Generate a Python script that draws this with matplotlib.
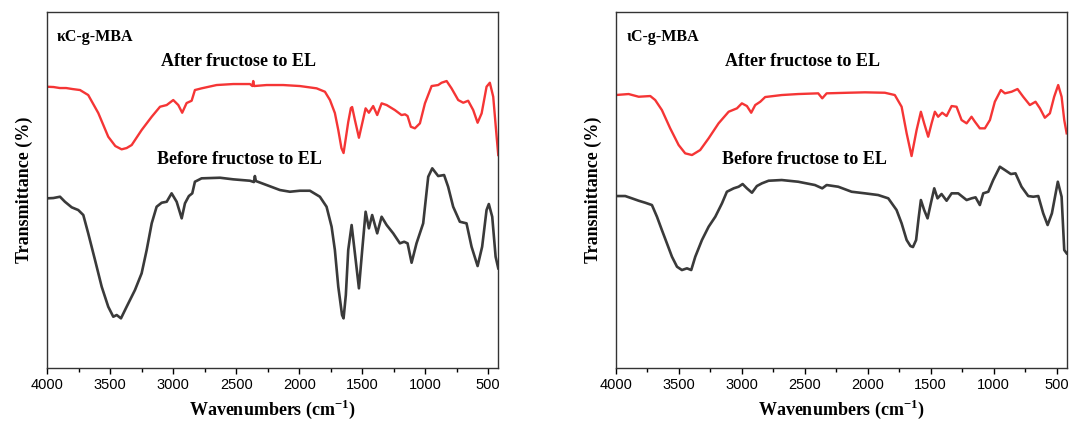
import numpy as np
import matplotlib
matplotlib.use('Agg')
import matplotlib.pyplot as plt
from matplotlib.ticker import MultipleLocator

plt.rcParams['font.family'] = ['Liberation Serif', 'DejaVu Serif']
plt.rcParams['mathtext.fontset'] = 'custom'
plt.rcParams['mathtext.rm'] = 'Liberation Serif:bold'
plt.rcParams['mathtext.bf'] = 'Liberation Serif:bold'

# kappa-carrageenan graft, after reaction (red)
k_after_wn = [4000, 3950, 3900, 3850, 3800, 3740, 3727, 3675, 3595, 3516, 3460, 3410, 3370, 3330,
              3251, 3171, 3105, 3052, 3000, 2960, 2929, 2894, 2854, 2828, 2775, 2656, 2524, 2391,
              2372, 2365, 2358, 2259, 2127, 1995, 1862, 1796, 1756, 1717, 1690, 1665, 1648, 1630,
              1611, 1590, 1580, 1558, 1526, 1500, 1473, 1447, 1413, 1381, 1346, 1306, 1241, 1188,
              1160, 1140, 1114, 1082, 1042, 1002, 949, 897, 870, 830, 791, 738, 698, 659, 619, 584,
              552, 513, 487, 460, 433, 420]
k_after_t = [281.3, 281, 280, 280, 279, 278, 277, 273, 255, 231.3, 222, 218.7, 220, 223,
             238, 251.3, 261.3, 263, 268, 263, 255.3, 265, 267.3, 278, 279.7, 283, 284, 284,
             282, 287, 282, 283, 283, 282, 279.7, 276.3, 268, 255, 238, 220, 215, 230,
             246, 260, 261, 248, 230.3, 244.7, 259.7, 255.3, 262, 253, 264.7, 263, 258, 253,
             253.7, 252, 241.3, 239.7, 244.7, 264.7, 282, 283, 285.3, 287, 279.7, 268, 265.3, 267.3, 258, 245.3,
             254.7, 281.3, 285.3, 271.3, 231.3, 213]

# kappa-carrageenan graft, before reaction (gray)
k_before_wn = [4000, 3952, 3899, 3860, 3806, 3754, 3714, 3675, 3621, 3568, 3516, 3476, 3449, 3415,
               3370, 3304, 3251, 3211, 3171, 3132, 3092, 3052, 3013, 2973, 2933, 2907, 2876, 2849,
               2828, 2775, 2629, 2524, 2391, 2360, 2352, 2344, 2259, 2153, 2074, 1995, 1915, 1836,
               1783, 1743, 1717, 1690, 1660, 1648, 1630, 1611, 1584, 1558, 1526, 1500, 1473, 1447,
               1421, 1381, 1346, 1306, 1254, 1201, 1167, 1140, 1108, 1069, 1016, 976, 944, 897,
               850, 818, 778, 725, 672, 632, 584, 548, 513, 495, 468, 441, 420]
k_before_t = [169.7, 170, 171.3, 166.3, 160.7, 158, 153, 134.7, 108, 81.3, 61.3, 51.3, 53, 49.7,
              61.3, 78, 94.7, 118, 144.7, 161.3, 165.3, 166.3, 174.7, 166.3, 149.7, 164.7, 172, 174.7,
              186.3, 189.7, 190.3, 188.7, 187.3, 186, 192, 187, 183, 178, 176.3, 177.3, 177.3, 171.3,
              161.3, 141.3, 118, 81.3, 53, 49.7, 73, 118, 143, 114.7, 79.7, 118, 156.3, 139.7,
              153, 134.7, 151.3, 143, 134.7, 124.7, 126.3, 124.7, 105.3, 124.7, 144.7, 191.3, 199.7, 192,
              193, 181.3, 161.3, 146.3, 144.7, 121.3, 102, 121.3, 158, 164, 151.3, 111.3, 99.7]

# iota-carrageenan graft, after reaction (red)
i_after_wn = [4000, 3897, 3817, 3725, 3686, 3633, 3567, 3500, 3448, 3394, 3329, 3262, 3183, 3103,
              3037, 2998, 2958, 2924, 2892, 2852, 2813, 2682, 2551, 2392, 2360, 2325, 2154, 2021,
              1863, 1784, 1730, 1690, 1651, 1611, 1577, 1551, 1519, 1492, 1466, 1440, 1408, 1373,
              1333, 1294, 1254, 1214, 1175, 1148, 1109, 1069, 1029, 990, 942, 910, 857, 810, 765,
              712, 667, 632, 593, 553, 519, 487, 460, 439, 420]
i_after_t = [273, 274, 271.3, 272, 268, 258, 239.7, 223, 214.7, 213, 218, 229.7, 244.7, 256.3,
             259.7, 264.7, 262, 255.3, 263, 266.3, 271, 273, 274, 274.7, 269.7, 274.7, 275.3, 275.7,
             275.3, 273, 261.3, 234.7, 212, 238, 256.3, 244.7, 231.3, 244.7, 256.3, 251.3, 255.3, 252,
             262, 261.3, 248, 244.7, 251.3, 246.3, 239.7, 239.7, 248, 266.3, 278, 274.7, 276.3, 279, 271.3,
             263, 266.3, 259.7, 250.3, 254.7, 271.3, 283, 271.3, 248, 234.7]

# iota-carrageenan graft, before reaction (gray)
i_before_wn = [4000, 3924, 3871, 3817, 3765, 3712, 3672, 3633, 3593, 3553, 3513, 3474, 3434, 3400,
               3368, 3315, 3262, 3209, 3156, 3117, 3063, 3024, 2992, 2958, 2918, 2879, 2839, 2786,
               2682, 2551, 2418, 2360, 2325, 2233, 2127, 2021, 1916, 1836, 1770, 1730, 1690, 1660,
               1640, 1615, 1595, 1577, 1551, 1524, 1498, 1471, 1445, 1413, 1373, 1333, 1281, 1214,
               1175, 1143, 1109, 1082, 1042, 1003, 950, 910, 863, 826, 778, 725, 685, 645, 606, 571,
               537, 490, 460, 439, 420]
i_before_t = [172, 172, 169.7, 167.3, 165.3, 163, 151.3, 138, 124.7, 111.3, 101.3, 98, 99.7, 98,
              111.3, 128, 141.3, 151.3, 164.7, 176.3, 179.7, 181.3, 184, 179.7, 175.3, 182, 184.7, 187.3,
              188, 186.3, 183, 179.7, 183, 181.3, 176.3, 174.7, 173, 169.7, 158, 144.7, 128, 122,
              121, 128, 150, 168, 158, 149.7, 164.7, 179.7, 169.7, 174, 167.3, 174.7, 174.7, 168,
              169.7, 170.7, 163, 174.7, 176.3, 188, 201.3, 198, 194, 194.7, 181.3, 172, 171.3, 172, 154.7, 143,
              154.7, 186.3, 171.3, 118, 114.7]

panels = [
    ('\u03baC-g-MBA', k_after_wn, k_after_t, k_before_wn, k_before_t, 0.022, 0.424, 0.427),
    ('\u03b9C-g-MBA', i_after_wn, i_after_t, i_before_wn, i_before_t, 0.025, 0.415, 0.419),
]
lefts = [0.0441, 0.5743]

fig = plt.figure(figsize=(10.72, 4.24), dpi=100)
for (name, aw, at, bw, bt, nx, ax_x, bx), left in zip(panels, lefts):
    ax = fig.add_axes([left, 0.132, 0.4207, 0.8396])
    ax.plot(aw, at, color='#f53535', lw=1.7, solid_joinstyle='round')
    ax.plot(bw, bt, color='#3a3a3a', lw=1.9, solid_joinstyle='round')
    ax.set_xlim(4000, 420)
    ax.set_ylim(0, 356)
    ax.set_yticks([])
    ax.xaxis.set_major_locator(MultipleLocator(500))
    ax.xaxis.set_minor_locator(MultipleLocator(250))
    ax.tick_params(axis='x', which='major', direction='out', length=4, width=1,
                   labelsize=10.5)
    ax.tick_params(axis='x', which='minor', direction='out', length=3, width=1)
    for lab in ax.get_xticklabels():
        lab.set_fontfamily('Liberation Sans')
    for s in ax.spines.values():
        s.set_linewidth(1.0)
        s.set_color('#333333')
    ax.set_xlabel('Wavenumbers (cm$^{-1}$)', fontsize=13, fontweight='bold', labelpad=4)
    ax.set_ylabel('Transmittance (%)', fontsize=13, fontweight='bold', labelpad=10)
    ax.text(nx, 0.93, name, transform=ax.transAxes, fontsize=11.5, fontweight='bold',
            ha='left', va='center')
    ax.text(ax_x, 0.86, 'After fructose to EL', transform=ax.transAxes, fontsize=13,
            fontweight='bold', ha='center', va='center')
    ax.text(bx, 0.587, 'Before fructose to EL', transform=ax.transAxes, fontsize=13,
            fontweight='bold', ha='center', va='center')

fig.savefig('out.png', dpi=100)
